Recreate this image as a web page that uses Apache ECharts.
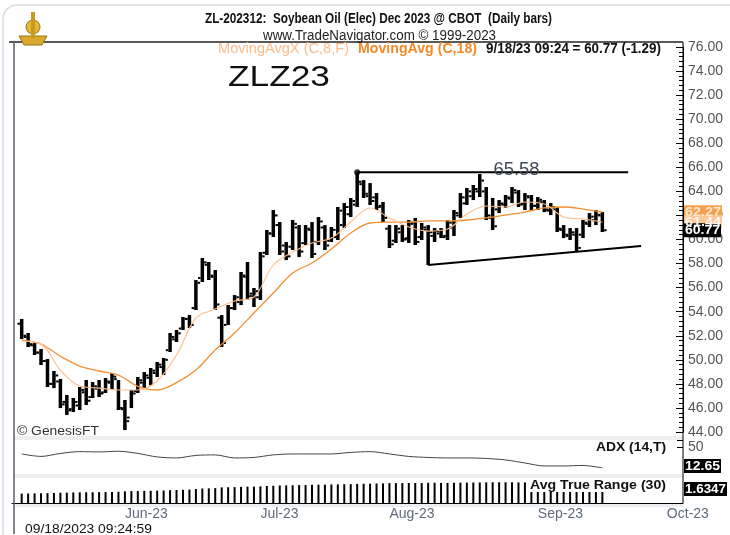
<!DOCTYPE html>
<html>
<head>
<meta charset="utf-8">
<script src="https://cdn.jsdelivr.net/npm/echarts@6/dist/echarts.min.js"></script>
<style>
  html, body { margin: 0; padding: 0; background: #fff; }
  #main { width: 730px; height: 535px; }
</style>
</head>
<body>
<div id="main"></div>
<script>
// trading days shown on the date axis (May 8 .. Oct 4, 2023)
var mayDays = [8, 9, 10, 11, 12, 15, 16, 17, 18, 19, 22, 23, 24, 25, 26, 30, 31];
var junDays = [1, 2, 5, 6, 7, 8, 9, 12, 13, 14, 15, 16, 20, 21, 22, 23, 26, 27, 28, 29, 30];
var julDays = [3, 5, 6, 7, 10, 11, 12, 13, 14, 17, 18, 19, 20, 21, 24, 25, 26, 27, 28, 31];
var augDays = [1, 2, 3, 4, 7, 8, 9, 10, 11, 14, 15, 16, 17, 18, 21, 22, 23, 24, 25, 28, 29, 30, 31];
var sepDays = [1, 5, 6, 7, 8, 11, 12, 13, 14, 15, 18, 19, 20, 21, 22, 25, 26, 27, 28, 29];
var octDays = [2, 3, 4];
var monthNames = ['Jan', 'Feb', 'Mar', 'Apr', 'May', 'Jun', 'Jul', 'Aug', 'Sep', 'Oct', 'Nov', 'Dec'];

// daily bars, May 9 .. Sep 18 (91 bars)
var opens = [
  53.0, 51.9, 51.2, 50.6, 49.9, 48.0, 48.2, 46.5, 45.9, 46.2,
  47.3, 46.9, 47.6, 47.3, 48.1, 48.4, 45.9, 45.2, 47.4, 48.1,
  48.5, 48.9, 49.4, 50.8, 51.7, 52.6, 53.4, 54.3, 56.8, 57.9,
  56.9, 53.5, 52.9, 54.3, 54.8, 56.9, 55.5, 55.2, 58.9, 60.5,
  61.2, 59.5, 59.4, 61.0, 59.7, 60.8, 59.8, 61.0, 59.9, 60.2,
  61.2, 62.1, 62.9, 64.6, 63.6, 63.5, 62.8, 60.9, 59.9, 60.6,
  60.1, 61.4, 60.2, 60.8, 60.3, 60.5, 60.3, 61.0, 62.0, 63.0,
  63.6, 64.0, 64.0, 61.8, 62.5, 62.9, 63.4, 63.9, 63.0, 63.5,
  62.8, 63.1, 62.4, 62.5, 60.8, 60.3, 60.4, 60.4, 61.3, 61.6,
  62.0
];
var highs = [
  53.39, 52.23, 51.40, 50.90, 50.07, 49.07, 48.41, 47.08, 46.83, 47.74,
  48.32, 48.15, 48.32, 48.49, 48.90, 48.32, 46.66, 47.49, 48.57, 48.98,
  49.32, 49.82, 50.15, 52.23, 52.48, 53.56, 53.72, 56.63, 58.46, 58.13,
  57.46, 53.72, 54.55, 55.38, 57.30, 58.13, 55.97, 58.96, 60.79, 62.45,
  61.45, 59.79, 61.62, 61.20, 61.20, 61.45, 61.87, 61.20, 61.04, 62.70,
  63.03, 63.45, 65.58, 64.94, 64.69, 63.86, 63.12, 61.20, 61.20, 61.20,
  61.62, 61.79, 61.37, 61.20, 60.95, 60.95, 61.62, 62.45, 63.86, 64.28,
  64.53, 65.44, 64.36, 63.45, 63.28, 63.70, 64.36, 64.11, 63.86, 63.70,
  63.53, 63.28, 63.03, 62.70, 61.20, 60.95, 60.95, 61.62, 62.20, 62.45,
  62.28
];
var lows = [
  51.73, 51.06, 50.40, 49.57, 47.74, 47.65, 45.99, 45.41, 45.66, 45.83,
  46.24, 46.82, 46.91, 47.24, 47.49, 45.83, 44.16, 45.99, 47.24, 47.65,
  47.90, 48.57, 48.73, 50.65, 51.48, 52.48, 52.64, 54.14, 56.47, 56.63,
  54.14, 51.06, 52.89, 54.14, 54.55, 54.97, 54.39, 54.97, 58.71, 60.21,
  58.71, 58.29, 59.13, 58.54, 59.54, 58.46, 59.54, 59.13, 59.79, 59.96,
  60.95, 61.87, 62.70, 63.45, 62.87, 62.45, 61.45, 59.29, 59.71, 59.79,
  59.71, 59.54, 59.96, 57.88, 59.79, 60.12, 59.96, 60.29, 61.79, 62.87,
  63.28, 63.53, 61.62, 60.79, 62.20, 62.62, 63.03, 62.70, 62.45, 62.45,
  62.45, 62.28, 62.03, 60.62, 60.12, 59.96, 58.96, 60.12, 61.04, 61.20,
  60.62
];
var closes = [
  52.0, 51.3, 50.6, 49.9, 48.0, 48.7, 46.3, 45.8, 46.5, 47.5,
  46.6, 47.8, 47.2, 48.2, 48.6, 46.0, 44.9, 47.2, 48.3, 48.7,
  49.1, 49.6, 50.0, 51.9, 52.2, 53.4, 52.9, 56.4, 58.1, 57.0,
  54.6, 51.4, 54.3, 55.2, 57.0, 55.3, 55.7, 58.6, 60.5, 62.0,
  59.0, 58.6, 61.3, 59.0, 60.9, 58.8, 61.5, 59.5, 60.8, 62.4,
  62.7, 63.2, 64.8, 63.8, 63.2, 62.7, 61.8, 59.6, 60.9, 60.0,
  61.3, 59.8, 61.0, 60.6, 60.7, 60.2, 61.4, 62.2, 63.5, 64.0,
  64.2, 64.9, 62.0, 61.1, 63.0, 63.5, 64.1, 62.9, 63.6, 62.8,
  63.3, 62.5, 62.7, 60.9, 60.4, 60.6, 59.3, 61.4, 61.9, 62.06,
  60.77
];

// moving averages and ADX, read every third bar
var sampleBars = [0, 3, 6, 9, 12, 15, 18, 21, 24, 27, 30, 33, 36, 39, 42, 45,
                  48, 51, 54, 57, 60, 63, 66, 69, 72, 75, 78, 81, 84, 87, 90];
var ma8 = [51.56, 51.31, 49.15, 47.82, 47.65, 47.49, 47.49, 48.24, 50.40, 53.47, 54.22,
           54.89, 55.22, 57.88, 58.96, 59.71, 60.12, 61.45, 62.62, 61.79, 61.04, 60.70,
           60.87, 62.12, 62.78, 62.70, 63.12, 62.95, 61.87, 61.70, 61.44];
var ma18 = [51.64, 51.31, 50.30, 49.48, 49.07, 48.73, 47.80, 47.49, 48.10, 49.15, 50.81,
            52.23, 53.89, 55.55, 57.21, 58.05, 59.21, 60.54, 61.37, 61.45, 61.45, 61.54,
            61.54, 61.62, 61.79, 62.03, 62.28, 62.62, 62.70, 62.53, 62.27];
var adx = [37.3, 32.9, 38.2, 41.4, 40.9, 42.1, 38.2, 32.0, 30.2, 34.7, 35.6,
           30.2, 31.1, 35.6, 37.3, 37.3, 37.3, 40.0, 41.4, 37.3, 32.9, 31.1,
           30.2, 30.2, 29.3, 26.7, 21.3, 16.0, 16.0, 16.9, 12.65];
var atr = [
  0.75, 0.76, 0.77, 0.78, 0.79, 0.80, 0.82, 0.83, 0.84, 0.85,
  0.86, 0.86, 0.87, 0.88, 0.88, 0.90, 0.93, 0.95, 0.96, 0.97,
  0.98, 0.99, 1.00, 1.03, 1.04, 1.06, 1.07, 1.12, 1.16, 1.17,
  1.19, 1.25, 1.26, 1.27, 1.29, 1.31, 1.31, 1.33, 1.36, 1.38,
  1.40, 1.41, 1.42, 1.43, 1.44, 1.46, 1.47, 1.47, 1.48, 1.49,
  1.50, 1.51, 1.53, 1.54, 1.55, 1.56, 1.57, 1.59, 1.59, 1.60,
  1.60, 1.60, 1.60, 1.62, 1.62, 1.61, 1.61, 1.62, 1.63, 1.63,
  1.64, 1.64, 1.65, 1.66, 1.66, 1.66, 1.66, 1.65, 1.65, 1.65,
  1.65, 1.64, 1.64, 1.64, 1.64, 1.64, 1.65, 1.64, 1.64, 1.63,
  1.6347
];

// hand drawn lines: [date, price]
var resistance = [['2023-07-25', 65.58], ['2023-09-22', 65.58]];
var support = [['2023-08-09', 57.88], ['2023-09-26', 59.46]];
var lastPrice = 60.77, lastMa8 = 61.44, lastMa18 = 62.27, lastAdx = '12.65', lastAtr = '1.6347';

function pad(n) { return n < 10 ? '0' + n : '' + n; }
var dates = [];
[[5, mayDays], [6, junDays], [7, julDays], [8, augDays], [9, sepDays], [10, octDays]].forEach(function (m) {
  m[1].forEach(function (d) { dates.push('2023-' + pad(m[0]) + '-' + pad(d)); });
});
var monthStart = {};
dates.forEach(function (d, i) {
  if (i > 0 && d.slice(5, 7) !== dates[i - 1].slice(5, 7)) monthStart[i] = true;
});

var FONT = '"Liberation Sans", Arial, sans-serif';
var bars = opens.map(function (o, i) { return [i + 1, o, highs[i], lows[i], closes[i]]; });
function sampled(vals) { return sampleBars.map(function (b, k) { return [dates[b + 1], vals[k]]; }); }

function renderOhlc(params, api) {
  var x = api.value(0);
  var ph = api.coord([x, api.value(2)]);
  var pl = api.coord([x, api.value(3)]);
  var po = api.coord([x, api.value(1)]);
  var pc = api.coord([x, api.value(4)]);
  var st = { fill: '#000' };
  return {
    type: 'group',
    children: [
      { type: 'rect', shape: { x: ph[0] - 1.75, y: ph[1], width: 3.5, height: Math.max(pl[1] - ph[1], 1) }, style: st },
      { type: 'rect', shape: { x: po[0] - 4.25, y: po[1] - 1, width: 2.5, height: 2 }, style: st },
      { type: 'rect', shape: { x: pc[0] + 1.75, y: pc[1] - 1, width: 2.5, height: 2 }, style: st }
    ]
  };
}

var chart = echarts.init(document.getElementById('main'));
chart.setOption({
  animation: false,
  backgroundColor: '#fff',
  grid: [
    { left: 12, right: 47, top: 47, height: 385 },
    { left: 12, right: 47, top: 440, height: 35 },
    { left: 12, right: 47, top: 478, height: 25 }
  ],
  xAxis: [
    { type: 'category', gridIndex: 0, data: dates, show: false },
    { type: 'category', gridIndex: 1, data: dates, show: false },
    {
      type: 'category', gridIndex: 2, data: dates,
      axisLine: { lineStyle: { color: '#000', width: 1 } },
      axisTick: { show: false },
      axisLabel: {
        interval: function (i) { return !!monthStart[i]; },
        formatter: function (v) { return monthNames[+v.slice(5, 7) - 1] + '-23'; },
        align: 'left', color: '#5d6b7c', fontSize: 14, fontFamily: FONT, margin: 4
      }
    }
  ],
  yAxis: [
    {
      type: 'value', gridIndex: 0, position: 'right', min: 44, max: 76, interval: 2,
      axisLine: { show: true, lineStyle: { color: '#000' } },
      axisTick: { show: true, inside: true, length: 7, lineStyle: { color: '#000' } },
      minorTick: { show: true, splitNumber: 5, length: 4, lineStyle: { color: '#000' } },
      splitLine: { show: false },
      axisLabel: { formatter: function (v) { return v.toFixed(2); }, color: '#555', fontSize: 14, fontFamily: FONT, margin: 5 }
    },
    {
      type: 'value', gridIndex: 1, position: 'right', min: 0, max: 62, interval: 50,
      axisLine: { show: false },
      axisTick: { show: true, inside: true, length: 6, lineStyle: { color: '#000' } },
      splitLine: { show: false },
      axisLabel: { formatter: function (v) { return v === 50 ? '50' : ''; }, color: '#555', fontSize: 14, fontFamily: FONT, margin: 5 }
    },
    { type: 'value', gridIndex: 2, min: 0, max: 2, show: false }
  ],
  series: [
    {
      type: 'custom', xAxisIndex: 0, yAxisIndex: 0, data: bars,
      encode: { x: 0, y: [1, 2, 3, 4] }, renderItem: renderOhlc, z: 3
    },
    {
      type: 'line', xAxisIndex: 0, yAxisIndex: 0, data: sampled(ma18), smooth: 0.35,
      symbol: 'none', lineStyle: { color: '#f39033', width: 1.3 }, z: 4
    },
    {
      type: 'line', xAxisIndex: 0, yAxisIndex: 0, data: sampled(ma8), smooth: 0.35,
      symbol: 'none', lineStyle: { color: '#fdbd8b', width: 1.1 }, z: 4
    },
    {
      type: 'line', xAxisIndex: 0, yAxisIndex: 0, data: resistance,
      symbol: 'none', lineStyle: { color: '#000', width: 2 }, z: 5
    },
    {
      type: 'line', xAxisIndex: 0, yAxisIndex: 0, data: support,
      symbol: 'none', lineStyle: { color: '#000', width: 2 }, z: 5
    },
    {
      type: 'scatter', xAxisIndex: 0, yAxisIndex: 0, data: [resistance[0]],
      symbolSize: 6, itemStyle: { color: '#000' }, z: 6
    },
    {
      type: 'line', xAxisIndex: 1, yAxisIndex: 1, data: sampled(adx), smooth: 0.3,
      symbol: 'none', lineStyle: { color: '#444', width: 1 }
    },
    {
      type: 'bar', xAxisIndex: 2, yAxisIndex: 2, barWidth: 2,
      data: atr.map(function (v, i) { return [dates[i + 1], v]; }),
      itemStyle: { color: '#000' }
    }
  ]
});

// text and decorations
var ctx = document.createElement('canvas').getContext('2d');
function txt(s, x, y, w, font, fill, z) {
  ctx.font = font;
  var sx = w ? w / ctx.measureText(s).width : 1;
  return {
    type: 'text', x: x, y: y, scaleX: sx, z: z || 20,
    style: { text: s, font: font, fill: fill, align: 'left', verticalAlign: 'middle', textAlign: 'left', textVerticalAlign: 'middle' }
  };
}
function box(s, y, w, bg, fg) {
  return [
    { type: 'rect', shape: { x: 684, y: y - 7, width: w, height: 14 }, style: { fill: bg }, z: 30 },
    txt(s, 685, y, w - 2, 'bold 13px ' + FONT, fg, 31)
  ];
}
var py = function (v) { return chart.convertToPixel({ yAxisIndex: 0 }, v); };
var lbl = chart.convertToPixel({ xAxisIndex: 0, yAxisIndex: 0 }, ['2023-08-29', 65.58]);

var g = [
  { type: 'rect', shape: { x: 3, y: 5, width: 760, height: 560, r: 14 }, style: { fill: 'none', stroke: '#d9dcdf', lineWidth: 1.5 }, z: 1 },
  { type: 'rect', shape: { x: 14, y: 436, width: 669, height: 4 }, style: { fill: '#eceef0' }, z: 1 },
  { type: 'rect', shape: { x: 14, y: 474, width: 669, height: 4 }, style: { fill: '#eceef0' }, z: 1 },
  { type: 'rect', shape: { x: 14, y: 504, width: 669, height: 3 }, style: { fill: '#eceef0' }, z: 1 },
  { type: 'line', shape: { x1: 9, y1: 42, x2: 683, y2: 42 }, style: { stroke: '#222', lineWidth: 1.5 }, z: 10 },
  { type: 'line', shape: { x1: 14, y1: 42, x2: 14, y2: 534 }, style: { stroke: '#56606b', lineWidth: 1.5 }, z: 10 },
  { type: 'line', shape: { x1: 683, y1: 42, x2: 683, y2: 503 }, style: { stroke: '#000', lineWidth: 1 }, z: 10 },
  // logo
  { type: 'circle', shape: { cx: 33, cy: 27, r: 7 }, style: { fill: '#e3b63c', stroke: '#9c7614', lineWidth: 1 }, z: 10 },
  { type: 'polygon', shape: { points: [[19, 36], [47, 36], [42, 45], [24, 45]] }, style: { fill: '#d9a92c', stroke: '#9c7614', lineWidth: 1 }, z: 10 },
  { type: 'rect', shape: { x: 31, y: 12, width: 4, height: 26 }, style: { fill: '#c99a22' }, z: 10 },
  txt('ZL-202312:  Soybean Oil (Elec) Dec 2023 @ CBOT  (Daily bars)', 205, 19, 347, 'bold 14px ' + FONT, '#111'),
  txt('www.TradeNavigator.com \u00a9 1999-2023', 263, 36, 233, '14px ' + FONT, '#222'),
  txt('MovingAvgX (C,8,F)', 218, 49, 131, '14px ' + FONT, '#fdbb8a'),
  txt('MovingAvg (C,18)', 358, 49, 119, 'bold 14px ' + FONT, '#f38a28'),
  txt('9/18/23 09:24 = 60.77 (-1.29)', 486, 49, 175, 'bold 14px ' + FONT, '#111'),
  txt('ZLZ23', 228, 78, 102, '30px ' + FONT, '#111'),
  txt('65.58', lbl[0] - 25, lbl[1] - 2, 46, '18px ' + FONT, '#3b4959'),
  txt('\u00a9 GenesisFT', 17, 432, 82, '12px ' + FONT, '#333'),
  txt('ADX (14,T)', 596, 447, 70, 'bold 13px ' + FONT, '#111'),
  { type: 'rect', shape: { x: 528, y: 478, width: 154, height: 14 }, style: { fill: '#fff' }, z: 19 },
  txt('Avg True Range (30)', 530, 485, 136, 'bold 13px ' + FONT, '#111'),
  txt('09/18/2023 09:24:59', 25, 529, 127, '13px ' + FONT, '#111')
];
g = g.concat(box(lastMa18.toFixed(2), py(lastMa18), 38, '#f6a04c', '#fde6cf'));
g = g.concat(box(lastMa8.toFixed(2), py(lastMa8), 38, '#fcc89b', '#fff6ee'));
g = g.concat(box(lastPrice.toFixed(2), py(lastPrice), 37, '#000', '#fff'));
g = g.concat(box(lastAdx, 466, 37, '#000', '#fff'));
g = g.concat(box(lastAtr, 489, 43, '#000', '#fff'));
chart.setOption({ graphic: { elements: g } });
</script>
</body>
</html>
